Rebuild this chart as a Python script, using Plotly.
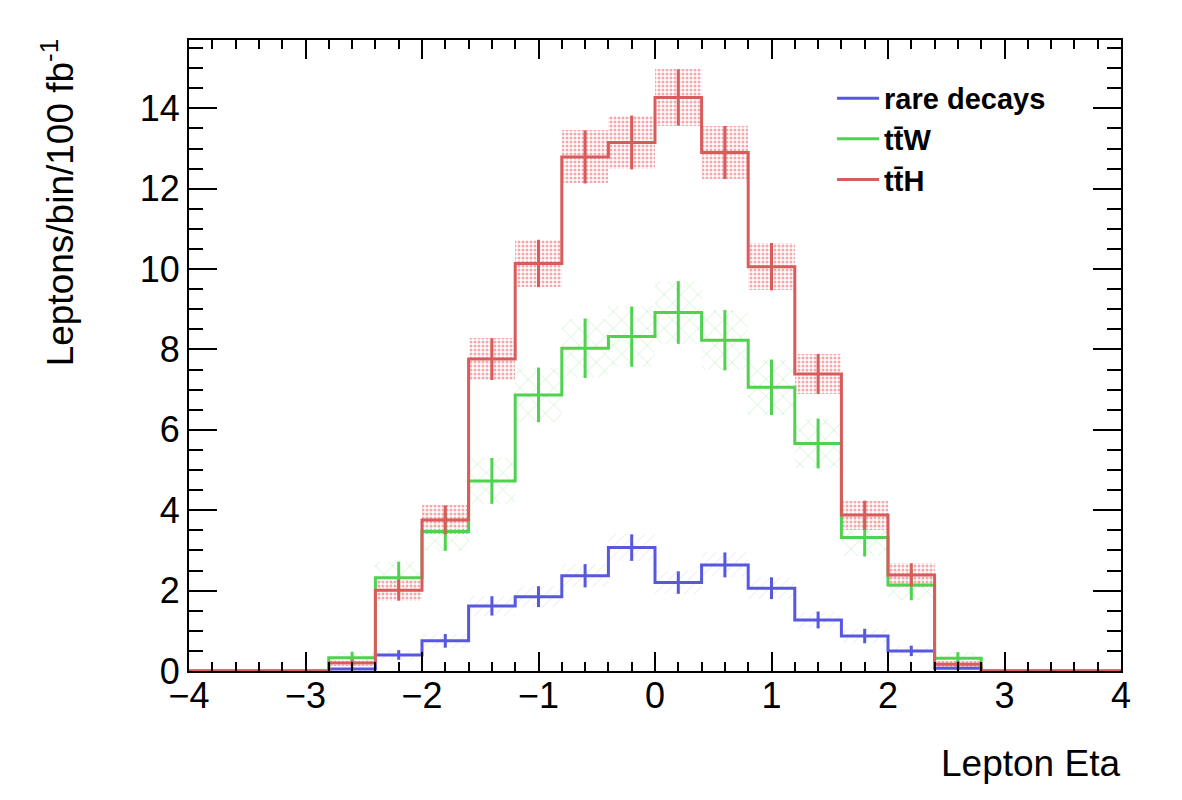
import plotly.graph_objects as go

# bin edges (20 bins of width 0.4 from -4 to 4)
bin_edges = [-4.0, -3.6, -3.2, -2.8, -2.4, -2.0, -1.6, -1.2, -0.8, -0.4, 0.0,
             0.4, 0.8, 1.2, 1.6, 2.0, 2.4, 2.8, 3.2, 3.6, 4.0]
bin_centers = [-3.8, -3.4, -3.0, -2.6, -2.2, -1.8, -1.4, -1.0, -0.6, -0.2,
               0.2, 0.6, 1.0, 1.4, 1.8, 2.2, 2.6, 3.0, 3.4, 3.8]

rare_vals = [0, 0, 0, 0.05, 0.40, 0.75, 1.62, 1.85, 2.37, 3.07,
             2.20, 2.64, 2.06, 1.27, 0.87, 0.50, 0.07, 0, 0, 0]
rare_errs = [0, 0, 0, 0.04, 0.12, 0.17, 0.24, 0.26, 0.29, 0.33,
             0.28, 0.31, 0.27, 0.21, 0.18, 0.13, 0.05, 0, 0, 0]

ttw_vals = [0, 0, 0, 0.33, 2.32, 3.47, 4.73, 6.87, 8.03, 8.32,
            8.92, 8.23, 7.06, 5.66, 3.32, 2.14, 0.32, 0, 0, 0]
ttw_errs = [0, 0, 0, 0.15, 0.40, 0.48, 0.57, 0.68, 0.74, 0.75,
            0.78, 0.75, 0.69, 0.62, 0.47, 0.38, 0.15, 0, 0, 0]

tth_vals = [0, 0, 0, 0.20, 2.01, 3.76, 7.76, 10.14, 12.79, 13.15,
            14.27, 12.90, 10.06, 7.39, 3.88, 2.39, 0.17, 0, 0, 0]
tth_errs = [0, 0, 0, 0.08, 0.26, 0.36, 0.52, 0.59, 0.66, 0.67,
            0.70, 0.66, 0.59, 0.50, 0.36, 0.29, 0.08, 0, 0, 0]

series = [
    ("rare decays", rare_vals, rare_errs, "#5757e0", "rgba(120,120,235,0.45)", "/", 7, 0.12),
    ("tt\u0304W", ttw_vals, ttw_errs, "#4fd24f", "rgba(80,210,80,0.75)", "x", 12, 0.1),
    ("tt\u0304H", tth_vals, tth_errs, "#d95c5c", "rgba(225,50,60,0.85)", ".", 4, 0.45),
]

FONT = "Liberation Sans, Arial, Helvetica, sans-serif"
fig = go.Figure()

# error bands (pattern-filled boxes)
for name, vals, errs, col, pcol, shape, psize, sol in series:
    xs = [c for c, e in zip(bin_centers, errs) if e > 0]
    bases = [v - e for v, e in zip(vals, errs) if e > 0]
    heights = [2 * e for e in errs if e > 0]
    fig.add_trace(go.Bar(
        x=xs, y=heights, base=bases, width=0.4,
        marker=dict(color="rgba(0,0,0,0)", line=dict(width=0),
                    pattern=dict(shape=shape, fgcolor=pcol, bgcolor="rgba(0,0,0,0)",
                                 size=psize, solidity=sol, fillmode="overlay")),
        showlegend=False, hoverinfo="skip"))

# histogram step lines + error bars
for name, vals, errs, col, pcol, shape, psize, sol in series:
    fig.add_trace(go.Scatter(
        x=bin_edges, y=list(vals) + [vals[-1]], mode="lines",
        line=dict(color=col, width=3, shape="hv"), name=name))
    xs = [c for c, e in zip(bin_centers, errs) if e > 0]
    ys = [v for v, e in zip(vals, errs) if e > 0]
    es = [e for e in errs if e > 0]
    fig.add_trace(go.Scatter(
        x=xs, y=ys, mode="markers", marker=dict(size=1, color="rgba(0,0,0,0)"),
        error_y=dict(type="data", array=es, color=col, thickness=3, width=0),
        showlegend=False, hoverinfo="skip"))

axis_common = dict(showline=True, linecolor="black", linewidth=2, mirror="allticks",
                   ticks="inside", tickcolor="black", tickwidth=2, showgrid=False,
                   zeroline=False, tickfont=dict(family=FONT, size=36, color="black"))

fig.update_layout(
    width=1182, height=800,
    margin=dict(l=189, r=61, t=40, b=129),
    paper_bgcolor="white", plot_bgcolor="white",
    barmode="overlay", bargap=0,
    font=dict(family=FONT, color="black"),
    xaxis=dict(range=[-4, 4], dtick=1, ticklen=19, ticklabelstandoff=-8,
               minor=dict(dtick=0.2, ticklen=9, tickwidth=2, tickcolor="black", ticks="inside"),
               **axis_common),
    yaxis=dict(range=[0, 15.7], dtick=2, ticklen=28,
               minor=dict(dtick=0.5, ticklen=14, tickwidth=2, tickcolor="black", ticks="inside"),
               **axis_common),
    legend=dict(x=0.69, y=0.948, xanchor="left", yanchor="top",
                bgcolor="rgba(0,0,0,0)", borderwidth=0,
                font=dict(family=FONT, size=29, color="black", weight="bold"),
                tracegroupgap=0, itemwidth=42),
    showlegend=True,
    annotations=[
        dict(text="Leptons/bin/100 fb<sup>-1</sup>", textangle=-90,
             xref="paper", yref="paper", x=-0.14, y=1.005, xanchor="center", yanchor="top",
             showarrow=False, font=dict(family=FONT, size=37, color="black")),
        dict(text="Lepton Eta", xref="paper", yref="paper", x=1.001, y=-0.147,
             xanchor="right", yanchor="middle", showarrow=False,
             font=dict(family=FONT, size=37, color="black")),
    ],
)

fig.write_html("out.html")
